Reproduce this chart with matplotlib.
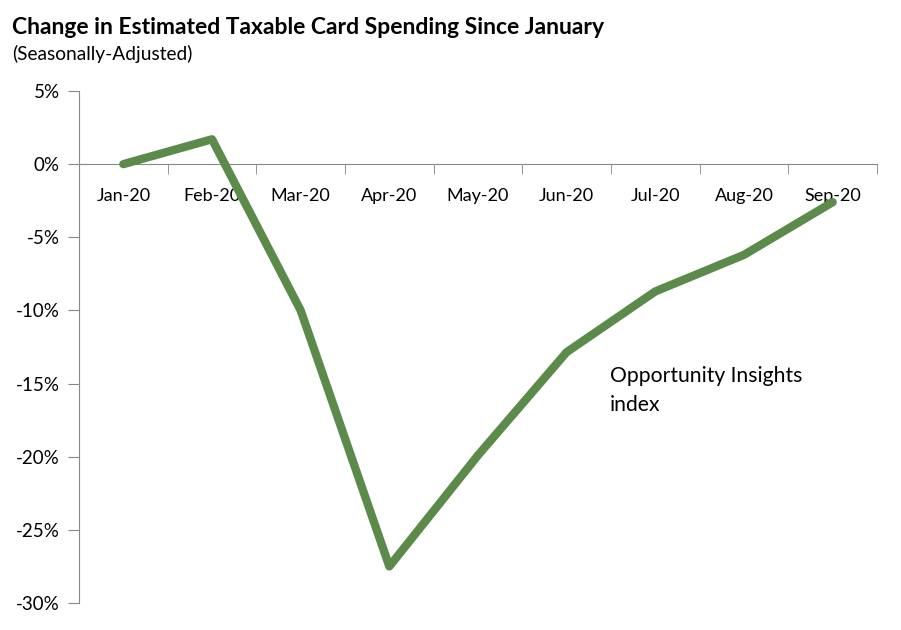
import matplotlib
matplotlib.use("Agg")
import matplotlib.pyplot as plt
from matplotlib.ticker import FixedLocator, PercentFormatter

months = ["Jan-20", "Feb-20", "Mar-20", "Apr-20", "May-20", "Jun-20", "Jul-20", "Aug-20", "Sep-20"]
spending_change = [0.0, 1.7, -10.0, -27.5, -19.9, -12.85, -8.7, -6.2, -2.6]
y_ticks = [5, 0, -5, -10, -15, -20, -25, -30]
annotation_lines = ["Opportunity Insights", "index"]

plt.rcParams['font.family'] = ['Lato', 'DejaVu Sans']
plt.rcParams['axes.unicode_minus'] = False

fig = plt.figure(figsize=(9.01, 6.30), dpi=100)
ax = fig.add_axes([79/901, 1 - 603/630, (877-79)/901, (603-91)/630])

x = list(range(len(months)))
ax.plot(x, spending_change, color="#5B8A4B", linewidth=6, solid_joinstyle="round", solid_capstyle="round", zorder=3)

ax.set_xlim(-0.5, len(months) - 0.5)
ax.set_ylim(-30, 5)
ax.set_yticks(y_ticks)
ax.yaxis.set_major_formatter(PercentFormatter(decimals=0))
ax.set_xticks(x)
ax.set_xticklabels(months)
ax.xaxis.set_minor_locator(FixedLocator([i - 0.5 for i in range(len(months) + 1)]))

for s in ["top", "right"]:
    ax.spines[s].set_visible(False)
ax.spines["bottom"].set_position(("data", 0))
ax.spines["bottom"].set_color("#888888")
ax.spines["left"].set_color("#888888")
ax.spines["left"].set_bounds(-30, 5)

ax.tick_params(axis="y", which="major", length=8, color="#888888", labelsize=13.5, pad=6, labelcolor="#000000")
ax.tick_params(axis="x", which="major", length=0, labelsize=13, pad=17)
ax.tick_params(axis="x", which="minor", length=7, color="#888888", direction="out")

fig.text(12/901, 1 - 27/630, "Change in Estimated Taxable Card Spending Since January",
         fontsize=16.5, fontweight="bold", va="center", ha="left")
fig.text(12/901, 1 - 54/630, "(Seasonally-Adjusted)", fontsize=13.8, va="center", ha="left")

for i, line in enumerate(annotation_lines):
    fig.text(610/901, 1 - (376 + 29 * i)/630, line, fontsize=15.2, va="center", ha="left")

fig.savefig("out.png", dpi=100)
